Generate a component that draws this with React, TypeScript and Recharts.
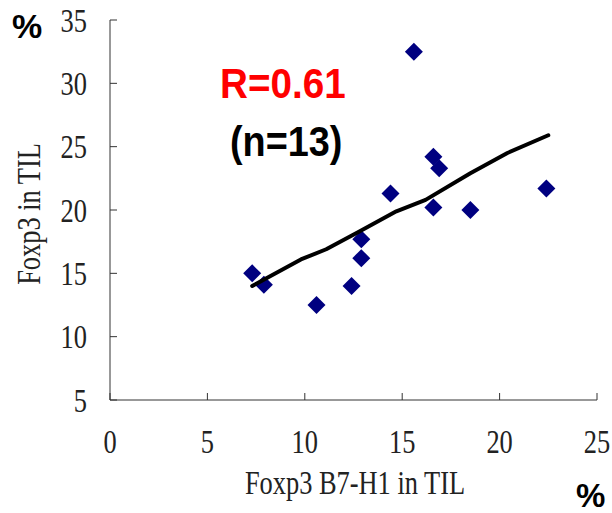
import React from 'react';
import { ScatterChart, Scatter, XAxis, YAxis, Label } from 'recharts';

// measured points (Foxp3 B7-H1 % vs Foxp3 %)
const pointX = [15.6, 7.3, 7.9, 10.6, 12.4, 12.9, 12.9, 14.4, 16.6, 16.9, 16.6, 18.5, 22.4];
const pointY = [32.5, 15.0, 14.1, 12.5, 14.0, 16.2, 17.7, 21.3, 24.2, 23.3, 20.2, 20.0, 21.7];

// smoothed trend line
const trendX = [7.3, 9.8, 11.1, 12.8, 14.7, 16.2, 18.5, 20.4, 22.5];
const trendY = [14.0, 16.1, 16.9, 18.3, 19.9, 20.8, 22.9, 24.5, 25.9];

const xTicks = [0, 5, 10, 15, 20, 25];
const yTicks = [5, 10, 15, 20, 25, 30, 35];

const points = pointX.map((x, i) => ({ x, y: pointY[i] }));
const trend = trendX.map((x, i) => ({ x, y: trendY[i] }));

const SERIF = '"Liberation Serif", "DejaVu Serif", serif';
const SANS = '"Liberation Sans", Arial, sans-serif';
const X_MARGIN = 41;
const Y_MARGIN = 23;
const TICK_LEN = 7;

function XTick({ x, y, payload }: any) {
  return (
    <g>
      <line x1={x} x2={x} y1={y - X_MARGIN} y2={y - X_MARGIN - TICK_LEN} stroke="#333" strokeWidth={1} />
      <text
        transform={`translate(${x},${y}) scale(0.8,1)`}
        textAnchor="middle"
        dominantBaseline="central"
        fontFamily={SERIF}
        fontSize={33}
        fill="#222"
      >
        {payload.value}
      </text>
    </g>
  );
}

function YTick({ x, y, payload }: any) {
  return (
    <g>
      <line x1={x + Y_MARGIN} x2={x + Y_MARGIN + TICK_LEN} y1={y} y2={y} stroke="#333" strokeWidth={1} />
      <text
        transform={`translate(${x},${y}) scale(0.8,1)`}
        textAnchor="end"
        dominantBaseline="central"
        fontFamily={SERIF}
        fontSize={33}
        fill="#222"
      >
        {payload.value}
      </text>
    </g>
  );
}

function Diamond({ cx, cy }: any) {
  const r = 9;
  return <path d={`M${cx},${cy - r}L${cx + r},${cy}L${cx},${cy + r}L${cx - r},${cy}Z`} fill="#000080" />;
}

function XTitle() {
  return (
    <text transform="translate(355,494) scale(0.8,1)" textAnchor="middle" fontFamily={SERIF} fontSize={33} fill="#222">
      Foxp3 B7-H1 in TIL
    </text>
  );
}

function YTitle() {
  return (
    <text transform="translate(40,214) rotate(-90) scale(0.8,1)" textAnchor="middle" fontFamily={SERIF} fontSize={33} fill="#222">
      Foxp3 in TIL
    </text>
  );
}

const boldText = (top: number, left: number, size: number, color: string, scale = 1, lh = size): React.CSSProperties => ({
  position: 'absolute',
  display: 'inline-block',
  width: 'max-content',
  top,
  left,
  fontFamily: SANS,
  fontWeight: 'bold',
  fontSize: size,
  lineHeight: `${lh}px`,
  color,
  whiteSpace: 'nowrap',
  transform: `scaleX(${scale})`,
  transformOrigin: 'left top',
});

export default function App() {
  return (
    <div style={{ position: 'absolute', left: 0, top: 0, width: 612, height: 513, background: '#fff' }}>
      <ScatterChart width={612} height={513} margin={{ top: 20, right: 15, bottom: 0, left: 0 }}>
        <XAxis
          type="number"
          dataKey="x"
          domain={[0, 25]}
          ticks={xTicks}
          height={113}
          tickSize={0}
          tickMargin={X_MARGIN}
          tickLine={false}
          tick={<XTick />}
          axisLine={{ stroke: '#333', strokeWidth: 1 }}
          interval={0}
        >
          <Label content={<XTitle />} />
        </XAxis>
        <YAxis
          type="number"
          dataKey="y"
          domain={[5, 35]}
          ticks={yTicks}
          width={110}
          tickSize={0}
          tickMargin={Y_MARGIN}
          tickLine={false}
          tick={<YTick />}
          axisLine={{ stroke: '#333', strokeWidth: 1 }}
          interval={0}
        >
          <Label content={<YTitle />} />
        </YAxis>
        <Scatter data={points} shape={<Diamond />} isAnimationActive={false} />
        <Scatter
          data={trend}
          line={{ stroke: '#000', strokeWidth: 4, strokeLinecap: 'round', strokeLinejoin: 'round' }}
          lineType="joint"
          shape={() => <g />}
          isAnimationActive={false}
        />
      </ScatterChart>
      <div style={boldText(9, 12, 34, '#000')}>%</div>
      <div style={boldText(482, 576, 33, '#000', 1, 28)}>%</div>
      <div style={boldText(63, 220, 42, '#FF0000', 0.92)}>R=0.61</div>
      <div style={boldText(121, 230, 42, '#000', 0.9)}>(n=13)</div>
    </div>
  );
}
